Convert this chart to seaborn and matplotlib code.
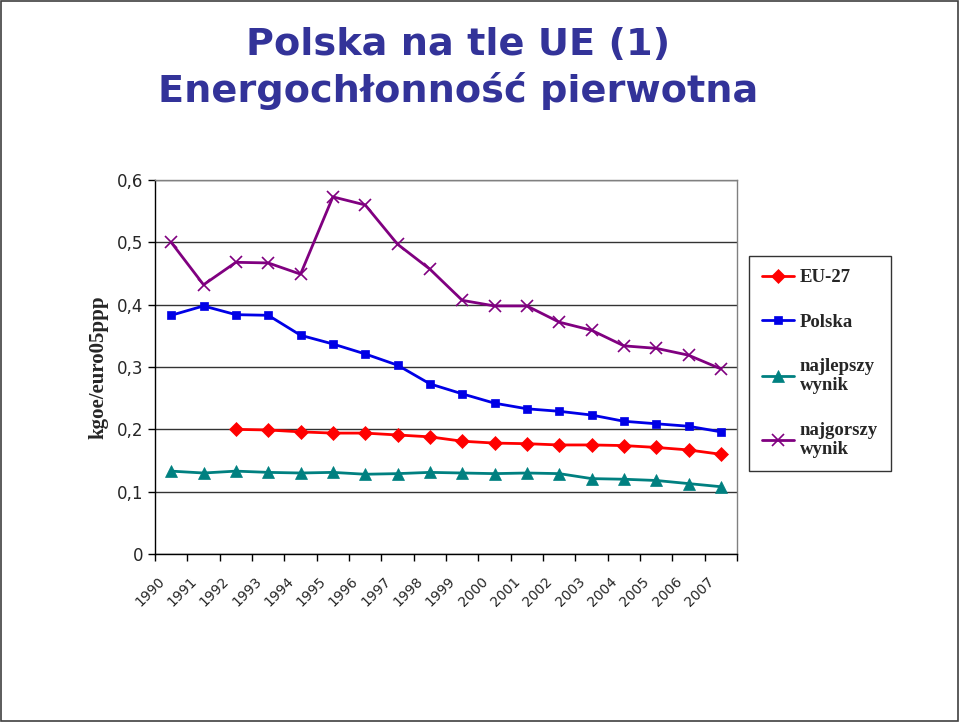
import seaborn as sns
from matplotlib import pyplot as plt
from matplotlib.patches import Rectangle
from matplotlib.transforms import ScaledTranslation
import numpy as np

years = [str(y) for y in range(1990, 2008)]

eu27 = [np.nan, np.nan, 0.200, 0.199, 0.196, 0.194, 0.194, 0.191, 0.188,
        0.181, 0.178, 0.177, 0.175, 0.175, 0.174, 0.171, 0.167, 0.160]
polska = [0.383, 0.398, 0.384, 0.383, 0.351, 0.337, 0.321, 0.303, 0.273,
          0.257, 0.242, 0.233, 0.229, 0.223, 0.213, 0.209, 0.205, 0.196]
najlepszy = [0.133, 0.130, 0.133, 0.131, 0.130, 0.131, 0.128, 0.129, 0.131,
             0.130, 0.129, 0.130, 0.129, 0.121, 0.120, 0.118, 0.113, 0.108]
najgorszy = [0.500, 0.432, 0.468, 0.467, 0.449, 0.573, 0.560, 0.497, 0.457,
             0.407, 0.398, 0.398, 0.372, 0.359, 0.334, 0.330, 0.319, 0.297]

series = [
    ("EU-27", eu27, "#FF0000", "D", 7),
    ("Polska", polska, "#0000E6", "s", 6),
    ("najlepszy\nwynik", najlepszy, "#008080", "^", 9),
    ("najgorszy\nwynik", najgorszy, "#800080", "x", 9),
]

sns.set_style("white")

fig = plt.figure(figsize=(9.6, 7.23), dpi=100)
ax = fig.add_axes([0.1615, 0.2337, 0.6063, 0.5173])

x = np.arange(len(years))
for name, vals, color, marker, ms in series:
    sns.lineplot(x=x, y=vals, ax=ax, color=color, marker=marker, markersize=ms,
                 markeredgecolor=color, markeredgewidth=1.2 if marker == "x" else 0.5,
                 linewidth=2, label=name)

ax.set_xlim(-0.5, len(years) - 0.5)
ax.set_ylim(0, 0.6)
yt = [0, 0.1, 0.2, 0.3, 0.4, 0.5, 0.6]
ax.set_yticks(yt)
ax.set_yticklabels(["0" if v == 0 else ("%.1f" % v).replace(".", ",") for v in yt],
                   fontsize=12, family="DejaVu Sans")
ax.yaxis.grid(True, color="#333333", linewidth=1)
ax.tick_params(axis="y", direction="out", length=5, width=1, color="black", left=True)

ax.set_xticks(x)
ax.set_xticklabels(years, rotation=45, ha="right", rotation_mode="anchor",
                   fontsize=10, family="DejaVu Sans")
ax.set_xticks(np.arange(-0.5, len(years)), minor=True)
ax.tick_params(axis="x", which="major", length=0, pad=14.5)
ax.tick_params(axis="x", which="minor", direction="out", length=5, width=1,
               color="black", bottom=True)
shift = ScaledTranslation(-14 / 100, 0, fig.dpi_scale_trans)
for lbl in ax.get_xticklabels():
    lbl.set_transform(lbl.get_transform() + shift)

for s in ["left", "bottom"]:
    ax.spines[s].set_color("black")
    ax.spines[s].set_linewidth(1)
for s in ["top", "right"]:
    ax.spines[s].set_color("#808080")
    ax.spines[s].set_linewidth(1)

ax.set_ylabel("kgoe/euro05ppp", fontsize=15, family="Liberation Serif",
              fontweight="bold", labelpad=6)

ax.get_legend().remove()
handles, labels = ax.get_legend_handles_labels()
leg = fig.legend(handles, labels, loc="upper left",
                 bbox_to_anchor=(749 / 960, 1 - 256 / 723), borderaxespad=0,
                 prop={"family": "Liberation Serif", "weight": "bold", "size": 13.5},
                 frameon=True, fancybox=False, edgecolor="black",
                 handlelength=1.7, labelspacing=1.45, borderpad=0.7,
                 handletextpad=0.3)
leg.get_frame().set_linewidth(1)

fig.text(0.477, 0.962, "Polska na tle UE (1)", ha="center", va="top",
         fontsize=27.5, fontweight="bold", color="#333399", family="DejaVu Sans")
fig.text(0.477, 0.900, "Energochłonność pierwotna", ha="center", va="top",
         fontsize=27.5, fontweight="bold", color="#333399", family="DejaVu Sans")

fig.patches.append(Rectangle((0.001, 0.003), 0.997, 0.995, transform=fig.transFigure,
                             fill=False, edgecolor="#404040", linewidth=1.2))

fig.savefig("out.png", dpi=100)
plt.close(fig)
